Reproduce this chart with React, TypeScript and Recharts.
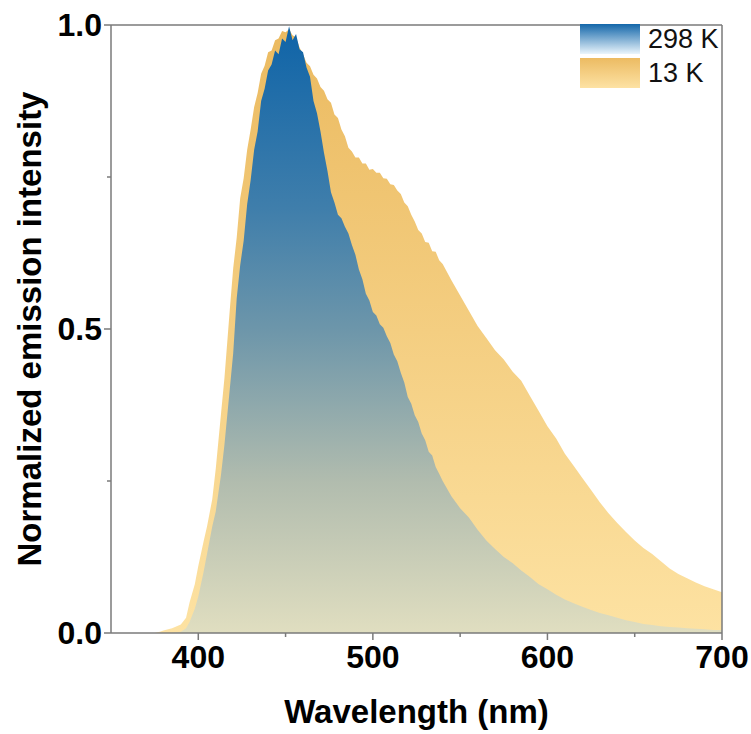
import {
  ComposedChart,
  Area,
  XAxis,
  YAxis,
  ReferenceLine,
  Legend,
  Label,
} from 'recharts'

// wavelength grid (nm)
const wavelengths = [
  350, 360, 370, 375, 378, 380, 385, 390, 393, 395, 398, 400, 403, 405, 408, 410, 413, 415, 418, 420,
  422, 424, 426, 428, 430, 432, 434, 436, 438, 440, 442, 444, 446, 448, 450, 452, 454, 456, 458, 460,
  462, 464, 466, 468, 470, 472, 474, 476, 478, 480, 482, 484, 486, 488, 490, 492, 494, 496, 498, 500,
  502, 504, 506, 508, 510, 512, 514, 516, 518, 520, 522, 524, 526, 528, 530, 532, 534, 536, 538, 540,
  545, 550, 555, 560, 565, 570, 575, 580, 585, 590, 595, 600, 605, 610, 615, 620, 625, 630, 635, 640,
  645, 650, 655, 660, 665, 670, 675, 680, 685, 690, 695, 700,
]

// 298 K, normalized
const room = [
  0, 0, 0, 0, 0, 0, 0, 0.002, 0.008, 0.018, 0.04, 0.06, 0.1, 0.13, 0.175, 0.2, 0.26, 0.31, 0.4, 0.46,
  0.55, 0.605, 0.645, 0.705, 0.745, 0.795, 0.825, 0.875, 0.895, 0.925, 0.935, 0.958, 0.952, 0.978, 0.972, 0.998, 0.975, 0.985, 0.96, 0.955,
  0.93, 0.915, 0.875, 0.855, 0.825, 0.79, 0.76, 0.725, 0.708, 0.688, 0.682, 0.668, 0.657, 0.638, 0.622, 0.598, 0.582, 0.558, 0.547, 0.528,
  0.522, 0.508, 0.502, 0.488, 0.477, 0.458, 0.447, 0.428, 0.412, 0.388, 0.377, 0.358, 0.347, 0.328, 0.317, 0.298, 0.292, 0.273, 0.262, 0.25,
  0.225, 0.205, 0.19, 0.17, 0.152, 0.138, 0.125, 0.115, 0.103, 0.092, 0.08, 0.072, 0.063, 0.055, 0.049, 0.043, 0.038, 0.033, 0.029, 0.025,
  0.021, 0.018, 0.015, 0.013, 0.011, 0.01, 0.009, 0.008, 0.007, 0.006, 0.005, 0.005,
]

// 13 K, normalized
const cold = [
  0, 0, 0, 0, 0.002, 0.004, 0.008, 0.014, 0.025, 0.05, 0.08, 0.11, 0.15, 0.175, 0.22, 0.27, 0.36, 0.42, 0.53, 0.6,
  0.65, 0.715, 0.748, 0.795, 0.828, 0.865, 0.888, 0.92, 0.933, 0.955, 0.958, 0.975, 0.978, 0.99, 0.988, 0.993, 0.983, 0.98, 0.963, 0.952,
  0.938, 0.932, 0.918, 0.912, 0.898, 0.892, 0.878, 0.872, 0.853, 0.847, 0.828, 0.817, 0.798, 0.792, 0.782, 0.782, 0.772, 0.772, 0.762, 0.763,
  0.757, 0.757, 0.748, 0.747, 0.738, 0.737, 0.728, 0.722, 0.708, 0.702, 0.688, 0.677, 0.663, 0.657, 0.643, 0.642, 0.628, 0.627, 0.613, 0.607,
  0.58, 0.555, 0.53, 0.505, 0.485, 0.465, 0.45, 0.43, 0.415, 0.39, 0.365, 0.34, 0.32, 0.295, 0.275, 0.255, 0.235, 0.215, 0.197, 0.181,
  0.166, 0.152, 0.14, 0.13, 0.118, 0.106, 0.097, 0.09, 0.083, 0.077, 0.072, 0.067,
]

const xMajor = [400, 500, 600, 700]
const xMinor = [450, 550, 650]
const yMajor = [0, 0.5, 1]
const yMinor = [0.25, 0.75]

const seriesNames = ['298 K', '13 K']

const data = wavelengths.map((w, i) => ({ w, room: room[i], cold: cold[i] }))

const FONT = '"Liberation Sans", Arial, sans-serif'
const AXIS = '#7a7a7a'

const XTick = (props: any) => {
  const { x, y, payload } = props
  const major = xMajor.includes(payload.value)
  return (
    <g>
      <line x1={x} y1={y} x2={x} y2={y + (major ? 7 : 4)} stroke={AXIS} strokeWidth={1.5} />
      {major && (
        <text x={x} y={y + 35} textAnchor="middle" fontSize={32} fontWeight="bold" fontFamily={FONT} fill="#000">
          {payload.value}
        </text>
      )}
    </g>
  )
}

const YTick = (props: any) => {
  const { x, y, payload } = props
  const major = yMajor.includes(payload.value)
  return (
    <g>
      <line x1={x} y1={y} x2={x - (major ? 7 : 4)} y2={y} stroke={AXIS} strokeWidth={1.5} />
      {major && (
        <text x={x - 9} y={y + 11} textAnchor="end" fontSize={32} fontWeight="bold" fontFamily={FONT} fill="#000">
          {payload.value.toFixed(1)}
        </text>
      )}
    </g>
  )
}

const legendTop = ['#1467aa', '#ecbb62']
const legendBottom = ['#eaf5fc', '#fde2a4']

const renderLegend = () => (
  <div>
    {seriesNames.map((n, i) => (
      <div key={n} style={{ display: 'flex', alignItems: 'center', height: 34 }}>
        <div
          style={{
            width: 60,
            height: 30,
            background: `linear-gradient(${legendTop[i]}, ${legendBottom[i]})`,
          }}
        />
        <span style={{ marginLeft: 8, fontSize: 27, fontFamily: FONT, color: '#111' }}>{n}</span>
      </div>
    ))}
  </div>
)

export default function App() {
  return (
    <div style={{ position: 'absolute', left: 0, top: 0, width: 751, height: 734, background: '#fff' }}>
      <ComposedChart
        width={751}
        height={734}
        data={data}
        margin={{ top: 25, right: 29, left: 0, bottom: 0 }}
        style={{ overflow: 'visible' }}
      >
        <defs>
          <linearGradient id="gradRoom" x1="0" y1="0" x2="0" y2="1">
            <stop offset="0%" stopColor="#0f64a8" />
            <stop offset="30%" stopColor="#3f7eab" />
            <stop offset="50%" stopColor="#6d96aa" />
            <stop offset="75%" stopColor="#b1bcae" />
            <stop offset="100%" stopColor="#e0dec0" />
          </linearGradient>
          <linearGradient id="gradCold" x1="0" y1="0" x2="0" y2="1">
            <stop offset="0%" stopColor="#ebba60" />
            <stop offset="100%" stopColor="#fde2a2" />
          </linearGradient>
        </defs>
        <XAxis
          dataKey="w"
          type="number"
          domain={[350, 700]}
          ticks={[...xMajor, ...xMinor].sort((a, b) => a - b)}
          interval={0}
          height={101}
          tickSize={0}
          tickMargin={0}
          tick={<XTick />}
          axisLine={{ stroke: AXIS, strokeWidth: 1.5 }}
          allowDataOverflow
        >
          <Label
            content={(p: any) => {
              const vb = p.viewBox
              return (
                <text
                  x={vb.x + vb.width / 2}
                  y={vb.y + 90}
                  textAnchor="middle"
                  fontSize={33}
                  fontWeight="bold"
                  fontFamily={FONT}
                  fill="#000"
                >
                  Wavelength (nm)
                </text>
              )
            }}
          />
        </XAxis>
        <YAxis
          type="number"
          domain={[0, 1]}
          ticks={[...yMajor, ...yMinor].sort((a, b) => a - b)}
          interval={0}
          width={111}
          tickSize={0}
          tickMargin={0}
          tick={<YTick />}
          axisLine={{ stroke: AXIS, strokeWidth: 1.5 }}
          allowDataOverflow
        >
          <Label
            content={(p: any) => {
              const vb = p.viewBox
              const cx = 29
              const cy = vb.y + vb.height / 2
              return (
                <text
                  x={cx}
                  y={cy}
                  transform={`rotate(-90 ${cx} ${cy})`}
                  textAnchor="middle"
                  dominantBaseline="central"
                  fontSize={33}
                  fontWeight="bold"
                  fontFamily={FONT}
                  fill="#000"
                >
                  Normalized emission intensity
                </text>
              )
            }}
          />
        </YAxis>
        <Area
          type="linear"
          dataKey="cold"
          name={seriesNames[1]}
          stroke="none"
          fill="url(#gradCold)"
          fillOpacity={1}
          isAnimationActive={false}
          dot={false}
          activeDot={false}
        />
        <Area
          type="linear"
          dataKey="room"
          name={seriesNames[0]}
          stroke="none"
          fill="url(#gradRoom)"
          fillOpacity={1}
          isAnimationActive={false}
          dot={false}
          activeDot={false}
        />
        <ReferenceLine y={1} stroke={AXIS} strokeWidth={1.5} />
        <ReferenceLine x={700} stroke={AXIS} strokeWidth={1.5} />
        <Legend
          content={renderLegend}
          layout="horizontal"
          verticalAlign="middle"
          align="center"
          wrapperStyle={{ top: 22, left: 580, width: 160, height: 70 }}
        />
      </ComposedChart>
    </div>
  )
}
